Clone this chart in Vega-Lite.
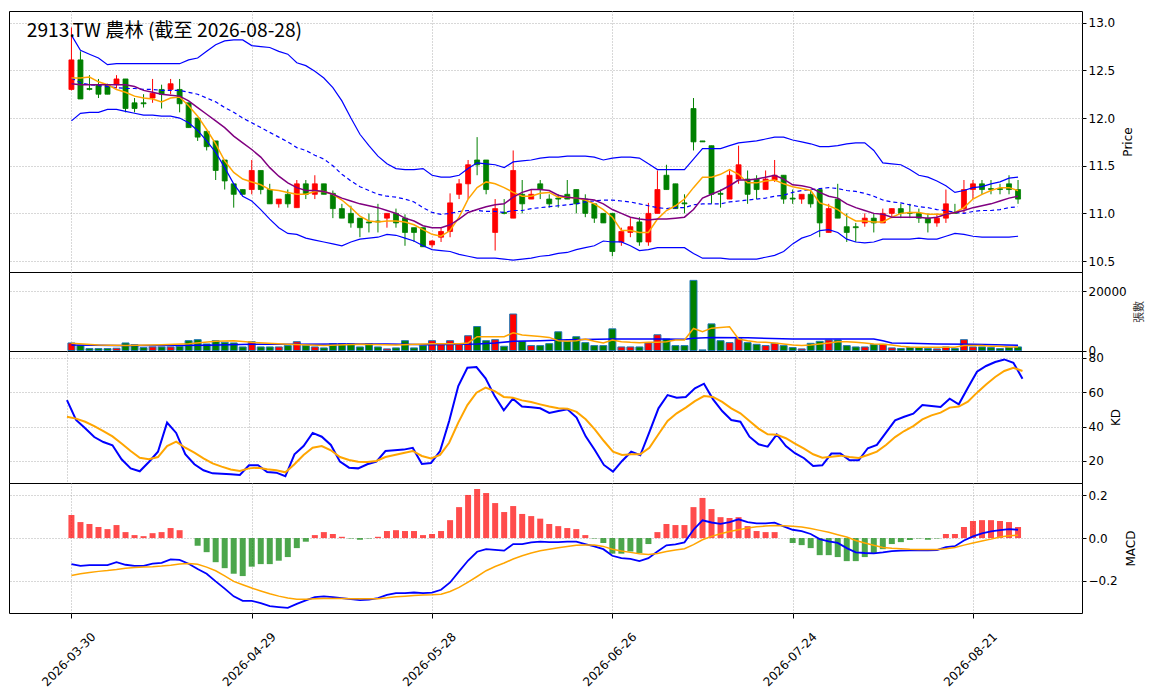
{
  "$schema": "https://vega.github.io/schema/vega-lite/v6.json",
  "background": "white",
  "padding": {"left": 8, "top": 10, "right": 5, "bottom": 5},
  "spacing": 0,
  "bounds": "flush",
  "datasets": {
    "k": [
      {"i":0,"o":12.30,"h":12.95,"l":12.29,"c":12.61,"v":2560,"bu":12.87,"bm":12.42,"bl":11.97,"m5":12.42,"m10":12.36,"k":55.4,"d":45.7,"dif":-0.122,"dea":-0.175,"hist":0.108},
      {"i":1,"o":12.61,"h":12.70,"l":12.20,"c":12.20,"v":1670,"bu":12.71,"bm":12.37,"bl":12.05,"m5":12.42,"m10":12.35,"k":43.8,"d":44.6,"dif":-0.130,"dea":-0.167,"hist":0.075},
      {"i":2,"o":12.31,"h":12.45,"l":12.29,"c":12.30,"v":670,"bu":12.67,"bm":12.35,"bl":12.06,"m5":12.43,"m10":12.35,"k":39.0,"d":42.8,"dif":-0.127,"dea":-0.161,"hist":0.066},
      {"i":3,"o":12.35,"h":12.41,"l":12.21,"c":12.25,"v":670,"bu":12.63,"bm":12.34,"bl":12.06,"m5":12.38,"m10":12.35,"k":33.9,"d":40.3,"dif":-0.127,"dea":-0.156,"hist":0.052},
      {"i":4,"o":12.35,"h":12.36,"l":12.25,"c":12.25,"v":670,"bu":12.56,"bm":12.33,"bl":12.09,"m5":12.35,"m10":12.35,"k":31.0,"d":37.4,"dif":-0.127,"dea":-0.152,"hist":0.042},
      {"i":5,"o":12.35,"h":12.45,"l":12.31,"c":12.41,"v":780,"bu":12.57,"bm":12.32,"bl":12.09,"m5":12.30,"m10":12.35,"k":29.1,"d":34.3,"dif":-0.113,"dea":-0.147,"hist":0.061},
      {"i":6,"o":12.41,"h":12.41,"l":12.06,"c":12.10,"v":2560,"bu":12.57,"bm":12.31,"bl":12.07,"m5":12.27,"m10":12.35,"k":21.0,"d":30.1,"dif":-0.125,"dea":-0.141,"hist":0.028},
      {"i":7,"o":12.16,"h":12.21,"l":12.06,"c":12.10,"v":2000,"bu":12.57,"bm":12.31,"bl":12.05,"m5":12.23,"m10":12.33,"k":15.7,"d":25.8,"dif":-0.130,"dea":-0.138,"hist":0.014},
      {"i":8,"o":12.16,"h":12.25,"l":12.11,"c":12.15,"v":1000,"bu":12.57,"bm":12.30,"bl":12.03,"m5":12.21,"m10":12.29,"k":14.0,"d":21.9,"dif":-0.130,"dea":-0.136,"hist":0.009},
      {"i":9,"o":12.21,"h":12.41,"l":12.16,"c":12.26,"v":1220,"bu":12.57,"bm":12.30,"bl":12.03,"m5":12.20,"m10":12.27,"k":19.4,"d":21.0,"dif":-0.120,"dea":-0.134,"hist":0.023},
      {"i":10,"o":12.30,"h":12.35,"l":12.10,"c":12.25,"v":1220,"bu":12.57,"bm":12.29,"bl":12.02,"m5":12.17,"m10":12.25,"k":25.4,"d":22.3,"dif":-0.116,"dea":-0.131,"hist":0.028},
      {"i":11,"o":12.30,"h":12.41,"l":12.25,"c":12.36,"v":1220,"bu":12.57,"bm":12.29,"bl":12.02,"m5":12.21,"m10":12.24,"k":42.3,"d":28.7,"dif":-0.100,"dea":-0.127,"hist":0.047},
      {"i":12,"o":12.30,"h":12.41,"l":12.06,"c":12.15,"v":1440,"bu":12.57,"bm":12.29,"bl":12.00,"m5":12.22,"m10":12.23,"k":36.3,"d":31.2,"dif":-0.102,"dea":-0.122,"hist":0.037},
      {"i":13,"o":12.16,"h":12.16,"l":11.90,"c":11.90,"v":3330,"bu":12.61,"bm":12.27,"bl":11.95,"m5":12.13,"m10":12.18,"k":23.9,"d":27.7,"dif":-0.120,"dea":-0.119,"hist":0.0},
      {"i":14,"o":12.00,"h":12.00,"l":11.76,"c":11.80,"v":3670,"bu":12.63,"bm":12.25,"bl":11.87,"m5":12.02,"m10":12.11,"k":18.1,"d":24.8,"dif":-0.145,"dea":-0.123,"hist":-0.036},
      {"i":15,"o":11.86,"h":11.86,"l":11.66,"c":11.70,"v":2220,"bu":12.70,"bm":12.21,"bl":11.76,"m5":11.88,"m10":12.04,"k":14.6,"d":21.5,"dif":-0.167,"dea":-0.136,"hist":-0.066},
      {"i":16,"o":11.76,"h":11.76,"l":11.35,"c":11.45,"v":3330,"bu":12.77,"bm":12.17,"bl":11.64,"m5":11.73,"m10":11.97,"k":12.8,"d":18.6,"dif":-0.203,"dea":-0.153,"hist":-0.113},
      {"i":17,"o":11.56,"h":11.56,"l":11.25,"c":11.34,"v":2780,"bu":12.81,"bm":12.11,"bl":11.48,"m5":11.55,"m10":11.90,"k":12.6,"d":16.7,"dif":-0.237,"dea":-0.177,"hist":-0.141},
      {"i":18,"o":11.31,"h":11.31,"l":11.06,"c":11.20,"v":2560,"bu":12.82,"bm":12.06,"bl":11.31,"m5":11.43,"m10":11.81,"k":12.3,"d":15.0,"dif":-0.273,"dea":-0.203,"hist":-0.167},
      {"i":19,"o":11.25,"h":11.25,"l":11.20,"c":11.20,"v":1220,"bu":12.82,"bm":12.00,"bl":11.18,"m5":11.36,"m10":11.74,"k":11.9,"d":14.2,"dif":-0.294,"dea":-0.219,"hist":-0.178},
      {"i":20,"o":11.25,"h":11.56,"l":11.20,"c":11.45,"v":3000,"bu":12.76,"bm":11.95,"bl":11.13,"m5":11.33,"m10":11.67,"k":17.5,"d":15.7,"dif":-0.294,"dea":-0.234,"hist":-0.134},
      {"i":21,"o":11.45,"h":11.45,"l":11.20,"c":11.25,"v":1220,"bu":12.75,"bm":11.90,"bl":11.04,"m5":11.30,"m10":11.59,"k":17.5,"d":16.1,"dif":-0.305,"dea":-0.248,"hist":-0.122},
      {"i":22,"o":11.25,"h":11.31,"l":11.10,"c":11.10,"v":1220,"bu":12.74,"bm":11.85,"bl":10.94,"m5":11.25,"m10":11.48,"k":13.6,"d":15.2,"dif":-0.319,"dea":-0.261,"hist":-0.122},
      {"i":23,"o":11.10,"h":11.15,"l":11.06,"c":11.15,"v":1220,"bu":12.70,"bm":11.80,"bl":10.85,"m5":11.24,"m10":11.39,"k":13.2,"d":14.6,"dif":-0.323,"dea":-0.272,"hist":-0.106},
      {"i":24,"o":11.20,"h":11.25,"l":11.06,"c":11.10,"v":1670,"bu":12.67,"bm":11.75,"bl":10.79,"m5":11.22,"m10":11.32,"k":11.1,"d":13.4,"dif":-0.327,"dea":-0.281,"hist":-0.089},
      {"i":25,"o":11.06,"h":11.35,"l":11.06,"c":11.31,"v":3000,"bu":12.58,"bm":11.69,"bl":10.78,"m5":11.20,"m10":11.27,"k":23.9,"d":18.1,"dif":-0.308,"dea":-0.286,"hist":-0.047},
      {"i":26,"o":11.31,"h":11.35,"l":11.15,"c":11.20,"v":1670,"bu":12.55,"bm":11.66,"bl":10.74,"m5":11.20,"m10":11.24,"k":28.7,"d":23.5,"dif":-0.292,"dea":-0.286,"hist":-0.017},
      {"i":27,"o":11.20,"h":11.40,"l":11.15,"c":11.31,"v":1220,"bu":12.49,"bm":11.61,"bl":10.72,"m5":11.23,"m10":11.24,"k":36.3,"d":27.7,"dif":-0.277,"dea":-0.284,"hist":0.014},
      {"i":28,"o":11.31,"h":11.31,"l":11.20,"c":11.20,"v":890,"bu":12.42,"bm":11.57,"bl":10.70,"m5":11.23,"m10":11.23,"k":34.1,"d":28.7,"dif":-0.273,"dea":-0.283,"hist":0.028},
      {"i":29,"o":11.21,"h":11.24,"l":10.95,"c":11.05,"v":2330,"bu":12.32,"bm":11.50,"bl":10.68,"m5":11.20,"m10":11.20,"k":29.3,"d":26.2,"dif":-0.277,"dea":-0.283,"hist":0.019},
      {"i":30,"o":11.05,"h":11.10,"l":10.95,"c":10.95,"v":2330,"bu":12.18,"bm":11.41,"bl":10.66,"m5":11.14,"m10":11.16,"k":19.6,"d":22.3,"dif":-0.281,"dea":-0.283,"hist":0.006},
      {"i":31,"o":11.00,"h":11.08,"l":10.85,"c":10.90,"v":2330,"bu":12.00,"bm":11.34,"bl":10.70,"m5":11.06,"m10":11.13,"k":16.1,"d":20.6,"dif":-0.286,"dea":-0.284,"hist":-0.002},
      {"i":32,"o":10.95,"h":10.95,"l":10.75,"c":10.85,"v":1220,"bu":11.83,"bm":11.28,"bl":10.73,"m5":10.97,"m10":11.10,"k":15.7,"d":19.6,"dif":-0.291,"dea":-0.284,"hist":-0.008},
      {"i":33,"o":10.91,"h":11.00,"l":10.80,"c":10.90,"v":2330,"bu":11.71,"bm":11.24,"bl":10.74,"m5":10.92,"m10":11.08,"k":18.1,"d":19.4,"dif":-0.288,"dea":-0.284,"hist":-0.002},
      {"i":34,"o":10.92,"h":11.10,"l":10.80,"c":10.91,"v":1220,"bu":11.60,"bm":11.20,"bl":10.75,"m5":10.91,"m10":11.06,"k":19.6,"d":20.0,"dif":-0.281,"dea":-0.284,"hist":0.006},
      {"i":35,"o":10.95,"h":11.00,"l":10.85,"c":11.00,"v":560,"bu":11.52,"bm":11.18,"bl":10.78,"m5":10.92,"m10":11.03,"k":25.8,"d":22.3,"dif":-0.266,"dea":-0.280,"hist":0.033},
      {"i":36,"o":11.00,"h":11.05,"l":10.85,"c":10.90,"v":890,"bu":11.47,"bm":11.17,"bl":10.77,"m5":10.92,"m10":11.00,"k":26.2,"d":23.5,"dif":-0.258,"dea":-0.275,"hist":0.037},
      {"i":37,"o":10.95,"h":10.99,"l":10.66,"c":10.80,"v":3330,"bu":11.46,"bm":11.15,"bl":10.74,"m5":10.91,"m10":10.95,"k":26.6,"d":24.6,"dif":-0.258,"dea":-0.272,"hist":0.033},
      {"i":38,"o":10.85,"h":10.85,"l":10.70,"c":10.80,"v":890,"bu":11.46,"bm":11.12,"bl":10.71,"m5":10.88,"m10":10.92,"k":27.6,"d":25.8,"dif":-0.255,"dea":-0.269,"hist":0.033},
      {"i":39,"o":10.85,"h":10.85,"l":10.65,"c":10.65,"v":1670,"bu":11.47,"bm":11.06,"bl":10.66,"m5":10.83,"m10":10.87,"k":18.3,"d":22.9,"dif":-0.258,"dea":-0.267,"hist":0.014},
      {"i":40,"o":10.67,"h":10.72,"l":10.64,"c":10.71,"v":3330,"bu":11.40,"bm":11.01,"bl":10.62,"m5":10.78,"m10":10.85,"k":18.8,"d":21.5,"dif":-0.256,"dea":-0.266,"hist":0.019},
      {"i":41,"o":10.75,"h":10.85,"l":10.70,"c":10.81,"v":2330,"bu":11.38,"bm":10.99,"bl":10.61,"m5":10.76,"m10":10.85,"k":25.8,"d":23.5,"dif":-0.242,"dea":-0.263,"hist":0.033},
      {"i":42,"o":10.81,"h":11.21,"l":10.75,"c":11.11,"v":3330,"bu":11.38,"bm":11.00,"bl":10.60,"m5":10.82,"m10":10.88,"k":43.2,"d":30.6,"dif":-0.208,"dea":-0.250,"hist":0.084},
      {"i":43,"o":11.20,"h":11.36,"l":11.15,"c":11.31,"v":2330,"bu":11.40,"bm":11.02,"bl":10.57,"m5":10.96,"m10":10.94,"k":63.5,"d":42.3,"dif":-0.156,"dea":-0.231,"hist":0.145},
      {"i":44,"o":11.31,"h":11.56,"l":11.15,"c":11.51,"v":5000,"bu":11.47,"bm":11.03,"bl":10.55,"m5":11.15,"m10":11.01,"k":74.2,"d":52.5,"dif":-0.105,"dea":-0.206,"hist":0.202},
      {"i":45,"o":11.56,"h":11.80,"l":11.40,"c":11.51,"v":8100,"bu":11.53,"bm":11.03,"bl":10.53,"m5":11.27,"m10":11.04,"k":74.6,"d":59.7,"dif":-0.064,"dea":-0.180,"hist":0.230},
      {"i":46,"o":11.56,"h":11.56,"l":11.20,"c":11.25,"v":3330,"bu":11.52,"bm":11.02,"bl":10.53,"m5":11.33,"m10":11.07,"k":68.0,"d":62.6,"dif":-0.052,"dea":-0.153,"hist":0.211},
      {"i":47,"o":10.80,"h":11.15,"l":10.61,"c":11.05,"v":3670,"bu":11.51,"bm":11.02,"bl":10.53,"m5":11.31,"m10":11.09,"k":57.7,"d":60.6,"dif":-0.055,"dea":-0.133,"hist":0.164},
      {"i":48,"o":11.01,"h":11.15,"l":10.99,"c":11.00,"v":1440,"bu":11.48,"bm":11.01,"bl":10.52,"m5":11.27,"m10":11.10,"k":49.4,"d":57.2,"dif":-0.059,"dea":-0.117,"hist":0.122},
      {"i":49,"o":10.95,"h":11.66,"l":10.95,"c":11.45,"v":12330,"bu":11.54,"bm":11.03,"bl":10.51,"m5":11.22,"m10":11.17,"k":56.2,"d":56.8,"dif":-0.028,"dea":-0.098,"hist":0.150},
      {"i":50,"o":11.20,"h":11.35,"l":11.00,"c":11.10,"v":3100,"bu":11.55,"bm":11.03,"bl":10.52,"m5":11.18,"m10":11.22,"k":51.7,"d":55.2,"dif":-0.028,"dea":-0.083,"hist":0.113},
      {"i":51,"o":11.15,"h":11.25,"l":11.15,"c":11.20,"v":1670,"bu":11.56,"bm":11.05,"bl":10.53,"m5":11.18,"m10":11.25,"k":51.2,"d":54.3,"dif":-0.020,"dea":-0.070,"hist":0.103},
      {"i":52,"o":11.31,"h":11.35,"l":11.15,"c":11.25,"v":1670,"bu":11.58,"bm":11.06,"bl":10.55,"m5":11.21,"m10":11.25,"k":50.6,"d":52.9,"dif":-0.017,"dea":-0.059,"hist":0.091},
      {"i":53,"o":11.15,"h":11.20,"l":11.06,"c":11.10,"v":2330,"bu":11.59,"bm":11.07,"bl":10.56,"m5":11.22,"m10":11.24,"k":47.9,"d":51.6,"dif":-0.019,"dea":-0.052,"hist":0.066},
      {"i":54,"o":11.16,"h":11.20,"l":11.06,"c":11.15,"v":6330,"bu":11.59,"bm":11.08,"bl":10.58,"m5":11.17,"m10":11.19,"k":49.0,"d":50.6,"dif":-0.019,"dea":-0.045,"hist":0.056},
      {"i":55,"o":11.20,"h":11.35,"l":11.15,"c":11.15,"v":3110,"bu":11.60,"bm":11.09,"bl":10.59,"m5":11.17,"m10":11.17,"k":50.0,"d":50.4,"dif":-0.017,"dea":-0.039,"hist":0.047},
      {"i":56,"o":11.25,"h":11.25,"l":11.00,"c":11.10,"v":4670,"bu":11.60,"bm":11.10,"bl":10.62,"m5":11.16,"m10":11.16,"k":45.2,"d":48.5,"dif":-0.017,"dea":-0.034,"hist":0.042},
      {"i":57,"o":11.15,"h":11.20,"l":10.96,"c":11.00,"v":2670,"bu":11.60,"bm":11.12,"bl":10.64,"m5":11.14,"m10":11.15,"k":34.3,"d":44.2,"dif":-0.028,"dea":-0.033,"hist":0.014},
      {"i":58,"o":11.10,"h":11.10,"l":10.90,"c":10.95,"v":1670,"bu":11.59,"bm":11.13,"bl":10.66,"m5":11.10,"m10":11.14,"k":26.4,"d":38.4,"dif":-0.039,"dea":-0.033,"hist":-0.002},
      {"i":59,"o":11.00,"h":11.00,"l":10.90,"c":10.90,"v":1670,"bu":11.56,"bm":11.14,"bl":10.71,"m5":11.04,"m10":11.10,"k":17.7,"d":31.6,"dif":-0.052,"dea":-0.039,"hist":-0.023},
      {"i":60,"o":11.00,"h":11.00,"l":10.55,"c":10.60,"v":7330,"bu":11.58,"bm":11.14,"bl":10.70,"m5":10.96,"m10":11.04,"k":13.8,"d":25.4,"dif":-0.083,"dea":-0.052,"hist":-0.073},
      {"i":61,"o":10.70,"h":10.85,"l":10.66,"c":10.81,"v":1220,"bu":11.59,"bm":11.13,"bl":10.70,"m5":10.82,"m10":11.00,"k":20.0,"d":23.5,"dif":-0.094,"dea":-0.061,"hist":-0.073},
      {"i":62,"o":10.80,"h":10.95,"l":10.75,"c":10.86,"v":1220,"bu":11.59,"bm":11.12,"bl":10.66,"m5":10.82,"m10":10.96,"k":25.4,"d":23.9,"dif":-0.097,"dea":-0.067,"hist":-0.063},
      {"i":63,"o":10.91,"h":10.96,"l":10.66,"c":10.70,"v":1220,"bu":11.58,"bm":11.10,"bl":10.61,"m5":10.80,"m10":10.94,"k":23.3,"d":23.9,"dif":-0.108,"dea":-0.073,"hist":-0.070},
      {"i":64,"o":10.70,"h":11.11,"l":10.66,"c":11.00,"v":2560,"bu":11.52,"bm":11.08,"bl":10.62,"m5":10.80,"m10":10.93,"k":36.8,"d":27.7,"dif":-0.094,"dea":-0.077,"hist":-0.028},
      {"i":65,"o":11.00,"h":11.45,"l":11.00,"c":11.25,"v":5330,"bu":11.46,"bm":11.06,"bl":10.64,"m5":10.94,"m10":10.94,"k":50.6,"d":35.5,"dif":-0.063,"dea":-0.072,"hist":0.028},
      {"i":66,"o":11.40,"h":11.51,"l":11.25,"c":11.25,"v":3890,"bu":11.46,"bm":11.05,"bl":10.64,"m5":11.03,"m10":10.94,"k":58.3,"d":43.2,"dif":-0.034,"dea":-0.063,"hist":0.066},
      {"i":67,"o":11.31,"h":11.31,"l":11.05,"c":11.05,"v":1670,"bu":11.46,"bm":11.06,"bl":10.64,"m5":11.08,"m10":10.95,"k":56.8,"d":47.7,"dif":-0.030,"dea":-0.056,"hist":0.061},
      {"i":68,"o":11.11,"h":11.20,"l":11.00,"c":11.10,"v":1670,"bu":11.46,"bm":11.06,"bl":10.64,"m5":11.15,"m10":10.96,"k":57.2,"d":51.0,"dif":-0.020,"dea":-0.050,"hist":0.061},
      {"i":69,"o":12.10,"h":12.21,"l":11.66,"c":11.75,"v":23670,"bu":11.57,"bm":11.09,"bl":10.58,"m5":11.27,"m10":11.04,"k":62.2,"d":54.8,"dif":0.039,"dea":-0.031,"hist":0.145},
      {"i":70,"o":11.76,"h":11.76,"l":11.75,"c":11.75,"v":220,"bu":11.68,"bm":11.10,"bl":10.53,"m5":11.38,"m10":11.16,"k":64.9,"d":57.7,"dif":0.083,"dea":-0.008,"hist":0.188},
      {"i":71,"o":11.71,"h":11.71,"l":11.10,"c":11.20,"v":9000,"bu":11.68,"bm":11.10,"bl":10.53,"m5":11.38,"m10":11.20,"k":55.8,"d":57.2,"dif":0.073,"dea":0.008,"hist":0.136},
      {"i":72,"o":11.21,"h":11.25,"l":11.06,"c":11.20,"v":3330,"bu":11.68,"bm":11.10,"bl":10.53,"m5":11.41,"m10":11.24,"k":49.0,"d":54.3,"dif":0.067,"dea":0.020,"hist":0.098},
      {"i":73,"o":11.15,"h":11.45,"l":11.15,"c":11.40,"v":2670,"bu":11.71,"bm":11.12,"bl":10.52,"m5":11.46,"m10":11.29,"k":43.8,"d":50.6,"dif":0.075,"dea":0.031,"hist":0.094},
      {"i":74,"o":11.36,"h":11.71,"l":11.31,"c":11.51,"v":4000,"bu":11.74,"bm":11.13,"bl":10.52,"m5":11.41,"m10":11.35,"k":42.8,"d":47.7,"dif":0.088,"dea":0.039,"hist":0.098},
      {"i":75,"o":11.36,"h":11.45,"l":11.10,"c":11.20,"v":2670,"bu":11.75,"bm":11.14,"bl":10.52,"m5":11.32,"m10":11.35,"k":34.1,"d":43.2,"dif":0.075,"dea":0.047,"hist":0.056},
      {"i":76,"o":11.36,"h":11.40,"l":11.15,"c":11.25,"v":2110,"bu":11.76,"bm":11.15,"bl":10.52,"m5":11.32,"m10":11.36,"k":29.7,"d":38.8,"dif":0.069,"dea":0.053,"hist":0.033},
      {"i":77,"o":11.25,"h":11.45,"l":11.25,"c":11.36,"v":1670,"bu":11.78,"bm":11.16,"bl":10.54,"m5":11.34,"m10":11.38,"k":28.3,"d":35.5,"dif":0.069,"dea":0.056,"hist":0.028},
      {"i":78,"o":11.35,"h":11.56,"l":11.33,"c":11.40,"v":2440,"bu":11.80,"bm":11.18,"bl":10.56,"m5":11.35,"m10":11.40,"k":35.5,"d":35.3,"dif":0.072,"dea":0.059,"hist":0.028},
      {"i":79,"o":11.40,"h":11.40,"l":11.10,"c":11.15,"v":1670,"bu":11.80,"bm":11.19,"bl":10.60,"m5":11.31,"m10":11.36,"k":28.7,"d":33.2,"dif":0.055,"dea":0.058,"hist":0.0},
      {"i":80,"o":11.16,"h":11.25,"l":11.10,"c":11.15,"v":1000,"bu":11.77,"bm":11.22,"bl":10.68,"m5":11.28,"m10":11.30,"k":24.5,"d":30.1,"dif":0.039,"dea":0.055,"hist":-0.023},
      {"i":81,"o":11.15,"h":11.20,"l":11.10,"c":11.20,"v":560,"bu":11.75,"bm":11.24,"bl":10.74,"m5":11.26,"m10":11.29,"k":21.6,"d":27.2,"dif":0.033,"dea":0.052,"hist":-0.033},
      {"i":82,"o":11.20,"h":11.25,"l":11.06,"c":11.10,"v":2440,"bu":11.73,"bm":11.25,"bl":10.77,"m5":11.24,"m10":11.27,"k":17.1,"d":23.9,"dif":0.019,"dea":0.045,"hist":-0.047},
      {"i":83,"o":11.25,"h":11.25,"l":10.75,"c":10.90,"v":3110,"bu":11.70,"bm":11.26,"bl":10.82,"m5":11.11,"m10":11.22,"k":17.5,"d":21.9,"dif":-0.005,"dea":0.036,"hist":-0.080},
      {"i":84,"o":10.80,"h":11.10,"l":10.80,"c":11.05,"v":3560,"bu":11.70,"bm":11.27,"bl":10.83,"m5":11.08,"m10":11.18,"k":24.3,"d":22.5,"dif":-0.016,"dea":0.027,"hist":-0.080},
      {"i":85,"o":11.15,"h":11.31,"l":10.95,"c":10.95,"v":3560,"bu":11.71,"bm":11.26,"bl":10.80,"m5":11.04,"m10":11.16,"k":24.3,"d":23.1,"dif":-0.023,"dea":0.016,"hist":-0.089},
      {"i":86,"o":10.86,"h":11.00,"l":10.70,"c":10.80,"v":1670,"bu":11.73,"bm":11.24,"bl":10.73,"m5":10.97,"m10":11.10,"k":20.4,"d":22.3,"dif":-0.047,"dea":0.005,"hist":-0.108},
      {"i":87,"o":10.86,"h":10.90,"l":10.70,"c":10.85,"v":1220,"bu":11.74,"bm":11.23,"bl":10.70,"m5":10.92,"m10":11.06,"k":20.4,"d":21.7,"dif":-0.067,"dea":-0.011,"hist":-0.108},
      {"i":88,"o":10.90,"h":11.00,"l":10.86,"c":10.95,"v":1220,"bu":11.74,"bm":11.21,"bl":10.69,"m5":10.92,"m10":11.03,"k":27.4,"d":23.5,"dif":-0.070,"dea":-0.023,"hist":-0.089},
      {"i":89,"o":10.95,"h":11.00,"l":10.80,"c":10.90,"v":2000,"bu":11.66,"bm":11.18,"bl":10.70,"m5":10.91,"m10":11.00,"k":29.3,"d":25.4,"dif":-0.072,"dea":-0.034,"hist":-0.070},
      {"i":90,"o":10.90,"h":11.05,"l":10.90,"c":11.00,"v":2110,"bu":11.53,"bm":11.14,"bl":10.73,"m5":10.91,"m10":10.99,"k":36.5,"d":29.3,"dif":-0.067,"dea":-0.044,"hist":-0.052},
      {"i":91,"o":11.00,"h":11.05,"l":10.95,"c":11.05,"v":890,"bu":11.52,"bm":11.12,"bl":10.73,"m5":10.96,"m10":10.96,"k":43.6,"d":33.9,"dif":-0.061,"dea":-0.048,"hist":-0.028},
      {"i":92,"o":11.05,"h":11.10,"l":10.95,"c":11.00,"v":670,"bu":11.51,"bm":11.11,"bl":10.73,"m5":11.00,"m10":10.96,"k":45.7,"d":37.4,"dif":-0.059,"dea":-0.050,"hist":-0.019},
      {"i":93,"o":11.01,"h":11.10,"l":10.95,"c":11.00,"v":1000,"bu":11.46,"bm":11.09,"bl":10.73,"m5":11.01,"m10":10.96,"k":47.5,"d":40.3,"dif":-0.058,"dea":-0.052,"hist":-0.009},
      {"i":94,"o":11.00,"h":11.05,"l":10.90,"c":10.95,"v":1000,"bu":11.40,"bm":11.07,"bl":10.74,"m5":11.01,"m10":10.96,"k":52.5,"d":44.2,"dif":-0.056,"dea":-0.053,"hist":-0.002},
      {"i":95,"o":10.95,"h":11.00,"l":10.80,"c":10.90,"v":670,"bu":11.38,"bm":11.06,"bl":10.73,"m5":10.99,"m10":10.95,"k":51.9,"d":46.5,"dif":-0.058,"dea":-0.053,"hist":-0.008},
      {"i":96,"o":10.90,"h":11.00,"l":10.86,"c":10.95,"v":560,"bu":11.34,"bm":11.04,"bl":10.73,"m5":10.99,"m10":10.96,"k":51.4,"d":48.1,"dif":-0.056,"dea":-0.053,"hist":-0.002},
      {"i":97,"o":10.95,"h":11.25,"l":10.90,"c":11.10,"v":1220,"bu":11.29,"bm":11.03,"bl":10.76,"m5":10.99,"m10":10.99,"k":56.2,"d":51.0,"dif":-0.042,"dea":-0.050,"hist":0.019},
      {"i":98,"o":11.01,"h":11.10,"l":11.00,"c":11.00,"v":670,"bu":11.22,"bm":11.01,"bl":10.79,"m5":11.01,"m10":11.01,"k":52.9,"d":51.6,"dif":-0.038,"dea":-0.044,"hist":0.019},
      {"i":99,"o":11.05,"h":11.35,"l":11.00,"c":11.25,"v":3670,"bu":11.24,"bm":11.00,"bl":10.78,"m5":11.06,"m10":11.03,"k":62.6,"d":54.5,"dif":-0.011,"dea":-0.033,"hist":0.052},
      {"i":100,"o":11.25,"h":11.35,"l":11.15,"c":11.31,"v":1220,"bu":11.27,"bm":11.02,"bl":10.76,"m5":11.15,"m10":11.06,"k":71.9,"d":59.7,"dif":0.008,"dea":-0.023,"hist":0.080},
      {"i":101,"o":11.31,"h":11.35,"l":11.20,"c":11.25,"v":1220,"bu":11.28,"bm":11.03,"bl":10.75,"m5":11.20,"m10":11.08,"k":75.2,"d":64.5,"dif":0.022,"dea":-0.014,"hist":0.084},
      {"i":102,"o":11.26,"h":11.35,"l":11.20,"c":11.25,"v":1000,"bu":11.31,"bm":11.03,"bl":10.75,"m5":11.24,"m10":11.10,"k":77.5,"d":68.8,"dif":0.031,"dea":-0.005,"hist":0.084},
      {"i":103,"o":11.26,"h":11.31,"l":11.20,"c":11.25,"v":670,"bu":11.33,"bm":11.04,"bl":10.75,"m5":11.27,"m10":11.13,"k":79.0,"d":72.3,"dif":0.037,"dea":0.005,"hist":0.080},
      {"i":104,"o":11.31,"h":11.40,"l":11.20,"c":11.25,"v":1000,"bu":11.37,"bm":11.06,"bl":10.75,"m5":11.27,"m10":11.16,"k":77.1,"d":74.2,"dif":0.042,"dea":0.011,"hist":0.075},
      {"i":105,"o":11.25,"h":11.35,"l":11.10,"c":11.15,"v":1220,"bu":11.38,"bm":11.07,"bl":10.76,"m5":11.24,"m10":11.18,"k":67.8,"d":72.3,"dif":0.039,"dea":0.013,"hist":0.052}
    ],
    "vo": [
      {"i":0,"v":2440},{"i":3,"v":1890},{"i":6,"v":1670},{"i":10,"v":2000},{"i":13,"v":2330},{"i":16,"v":3110},{"i":18,"v":3330},{"i":20,"v":2780},{"i":24,"v":2110},{"i":28,"v":1670},{"i":32,"v":2110},{"i":36,"v":1890},{"i":40,"v":2330},{"i":43,"v":2330},{"i":44,"v":2560},{"i":45,"v":4670},{"i":48,"v":4670},{"i":49,"v":6000},{"i":50,"v":5220},{"i":52,"v":4780},{"i":53,"v":4440},{"i":54,"v":3330},{"i":55,"v":3110},{"i":56,"v":3330},{"i":57,"v":3890},{"i":58,"v":3110},{"i":59,"v":2560},{"i":60,"v":3560},{"i":61,"v":3000},{"i":62,"v":2780},{"i":63,"v":2670},{"i":64,"v":2780},{"i":65,"v":2780},{"i":66,"v":3000},{"i":67,"v":3560},{"i":68,"v":3560},{"i":69,"v":7440},{"i":70,"v":6330},{"i":71,"v":7560},{"i":72,"v":7780},{"i":73,"v":8000},{"i":74,"v":3890},{"i":75,"v":3330},{"i":76,"v":2890},{"i":77,"v":2780},{"i":78,"v":2560},{"i":79,"v":2220},{"i":80,"v":1890},{"i":81,"v":1670},{"i":82,"v":1890},{"i":83,"v":2220},{"i":84,"v":2560},{"i":85,"v":3000},{"i":86,"v":3000},{"i":87,"v":2780},{"i":88,"v":2560},{"i":89,"v":2220},{"i":90,"v":2110},{"i":91,"v":1890},{"i":92,"v":1440},{"i":93,"v":1220},{"i":94,"v":1110},{"i":95,"v":1110},{"i":96,"v":1110},{"i":97,"v":1110},{"i":98,"v":1110},{"i":99,"v":1670},{"i":100,"v":1670},{"i":101,"v":1670},{"i":102,"v":1440},{"i":103,"v":1440},{"i":104,"v":1220},{"i":105,"v":1220}
    ],
    "vb": [
      {"i":0,"v":1890},{"i":5,"v":1670},{"i":10,"v":1670},{"i":15,"v":1780},{"i":20,"v":2110},{"i":25,"v":2110},{"i":30,"v":2220},{"i":35,"v":2220},{"i":40,"v":2000},{"i":43,"v":2110},{"i":45,"v":2220},{"i":47,"v":2560},{"i":49,"v":3110},{"i":52,"v":3330},{"i":55,"v":3670},{"i":60,"v":3890},{"i":65,"v":3890},{"i":68,"v":3780},{"i":69,"v":4110},{"i":71,"v":4440},{"i":75,"v":4330},{"i":80,"v":3890},{"i":85,"v":3890},{"i":89,"v":3890},{"i":90,"v":3330},{"i":91,"v":2560},{"i":93,"v":2440},{"i":96,"v":2220},{"i":100,"v":2110},{"i":105,"v":1780}
    ],
    "title": [
      {"t": "2913.TW 農林 (截至 2026-08-28)", "x": -4.95, "y": 12.913}
    ]
  },
  "vconcat": [
    {
      "width": 1073,
      "height": 261,
      "encoding": {
        "x": {"field": "i", "type": "quantitative", "scale": {"domain": [-6.37, 111.54], "nice": false, "zero": false},
              "axis": {"values": [0, 20, 40, 60, 80, 100], "labels": false, "ticks": false, "domain": false, "title": null, "grid": true}}
      },
      "layer": [
        {
          "data": {"name": "k"},
          "mark": {"type": "rule", "strokeWidth": 1},
          "encoding": {
            "y": {"field": "l", "type": "quantitative", "scale": {"domain": [10.385, 13.123], "nice": false, "zero": false},
                  "axis": {"orient": "right", "values": [10.5, 11.0, 11.5, 12.0, 12.5, 13.0], "format": ".1f", "title": "Price", "titleAngle": -90, "titleBaseline": "top", "titlePadding": 8, "grid": true, "domain": false, "tickSize": 4}},
            "y2": {"field": "h"},
            "color": {"condition": {"test": "datum.c >= datum.o", "value": "#ff0000"}, "value": "#008000"}
          }
        },
        {
          "data": {"name": "k"},
          "mark": {"type": "bar", "size": 5, "strokeWidth": 0.8},
          "encoding": {
            "y": {"field": "o", "type": "quantitative"},
            "y2": {"field": "c"},
            "color": {"condition": {"test": "datum.c >= datum.o", "value": "#ff0000"}, "value": "#008000"},
            "stroke": {"condition": {"test": "datum.c >= datum.o", "value": "#ff0000"}, "value": "#008000"}
          }
        },
        {"data": {"name": "k"}, "mark": {"type": "line", "color": "#0000ff", "strokeWidth": 1.2}, "encoding": {"y": {"field": "bu", "type": "quantitative"}}},
        {"data": {"name": "k"}, "mark": {"type": "line", "color": "#0000ff", "strokeWidth": 1.2}, "encoding": {"y": {"field": "bl", "type": "quantitative"}}},
        {"data": {"name": "k"}, "mark": {"type": "line", "color": "#0000ff", "strokeWidth": 1.2, "strokeDash": [4, 3]}, "encoding": {"y": {"field": "bm", "type": "quantitative"}}},
        {"data": {"name": "k"}, "mark": {"type": "line", "color": "#ffa500", "strokeWidth": 1.5}, "encoding": {"y": {"field": "m5", "type": "quantitative"}}},
        {"data": {"name": "k"}, "mark": {"type": "line", "color": "#800080", "strokeWidth": 1.5}, "encoding": {"y": {"field": "m10", "type": "quantitative"}}},
        {
          "data": {"name": "title"},
          "mark": {"type": "text", "align": "left", "baseline": "middle", "font": "Noto Sans CJK TC", "fontSize": 19.2, "color": "black"},
          "encoding": {
            "x": {"field": "x", "type": "quantitative"},
            "y": {"field": "y", "type": "quantitative"},
            "text": {"field": "t"}
          }
        }
      ]
    },
    {
      "width": 1073,
      "height": 79,
      "encoding": {
        "x": {"field": "i", "type": "quantitative", "scale": {"domain": [-6.37, 111.54], "nice": false, "zero": false},
              "axis": {"values": [0, 20, 40, 60, 80, 100], "labels": false, "ticks": false, "domain": false, "title": null, "grid": true}}
      },
      "layer": [
        {
          "data": {"name": "k"},
          "mark": {"type": "bar", "size": 7, "stroke": "#1f77b4", "strokeWidth": 1},
          "encoding": {
            "y": {"field": "v", "type": "quantitative", "scale": {"domain": [-150, 26500], "nice": false, "zero": false},
                  "axis": {"orient": "right", "values": [0, 20000], "format": "d", "title": "張數", "titleFont": "Noto Sans CJK TC", "titleFontSize": 11, "titleColor": "#333333", "titleAngle": -90, "titleBaseline": "top", "titlePadding": 7, "grid": true, "domain": false, "tickSize": 4}},
            "color": {"condition": {"test": "datum.c >= datum.o", "value": "#ff0000"}, "value": "#008000"}
          }
        },
        {"data": {"name": "vb"}, "mark": {"type": "line", "color": "#0000ff", "strokeWidth": 1.5}, "encoding": {"y": {"field": "v", "type": "quantitative"}}},
        {"data": {"name": "vo"}, "mark": {"type": "line", "color": "#ffa500", "strokeWidth": 1.5}, "encoding": {"y": {"field": "v", "type": "quantitative"}}}
      ]
    },
    {
      "width": 1073,
      "height": 132,
      "data": {"name": "k"},
      "encoding": {
        "x": {"field": "i", "type": "quantitative", "scale": {"domain": [-6.37, 111.54], "nice": false, "zero": false},
              "axis": {"values": [0, 20, 40, 60, 80, 100], "labels": false, "ticks": false, "domain": false, "title": null, "grid": true}}
      },
      "layer": [
        {
          "mark": {"type": "line", "color": "#0000ff", "strokeWidth": 2},
          "encoding": {
            "y": {"field": "k", "type": "quantitative", "scale": {"domain": [7.2, 83.9], "nice": false, "zero": false},
                  "axis": {"orient": "right", "values": [20, 40, 60, 80], "title": "KD", "titleAngle": -90, "titleBaseline": "top", "titlePadding": 7, "grid": true, "domain": false, "tickSize": 4}}
          }
        },
        {"mark": {"type": "line", "color": "#ffa500", "strokeWidth": 2}, "encoding": {"y": {"field": "d", "type": "quantitative"}}}
      ]
    },
    {
      "width": 1073,
      "height": 130,
      "data": {"name": "k"},
      "encoding": {
        "x": {"field": "i", "type": "quantitative", "scale": {"domain": [-6.37, 111.54], "nice": false, "zero": false},
              "axis": {"values": [0, 20, 40, 60, 80, 100], "labelExpr": "datum.value == 0 ? '2026-03-30' : datum.value == 20 ? '2026-04-29' : datum.value == 40 ? '2026-05-28' : datum.value == 60 ? '2026-06-26' : datum.value == 80 ? '2026-07-24' : '2026-08-21'",
                       "labelAngle": -45, "labelAlign": "center", "labelBaseline": "middle", "labelPadding": 41, "labelOffset": -3, "labelFlush": false, "labelOverlap": false, "tickSize": 5, "domain": false, "title": null, "grid": true}}
      },
      "layer": [
        {
          "mark": {"type": "bar", "size": 6, "opacity": 0.7},
          "encoding": {
            "y": {"field": "hist", "type": "quantitative", "scale": {"domain": [-0.351, 0.258], "nice": false, "zero": false},
                  "axis": {"orient": "right", "values": [-0.2, 0, 0.2], "format": ".1f", "title": "MACD", "titleAngle": -90, "titleBaseline": "top", "titlePadding": 8, "grid": true, "domain": false, "tickSize": 4}},
            "color": {"condition": {"test": "datum.hist >= 0", "value": "#ff0000"}, "value": "#008000"}
          }
        },
        {"mark": {"type": "rule", "color": "gray", "strokeWidth": 1, "strokeDash": [4, 2]}, "encoding": {"y": {"datum": 0}}},
        {"mark": {"type": "line", "color": "#0000ff", "strokeWidth": 1.8}, "encoding": {"y": {"field": "dif", "type": "quantitative"}}},
        {"mark": {"type": "line", "color": "#ffa500", "strokeWidth": 1.5}, "encoding": {"y": {"field": "dea", "type": "quantitative"}}}
      ]
    }
  ],
  "config": {
    "view": {"stroke": "black", "strokeWidth": 1},
    "axis": {"labelFont": "DejaVu Sans", "labelFontSize": 12, "labelColor": "black", "titleFont": "DejaVu Sans", "titleFontSize": 12, "titleFontWeight": "normal", "titleColor": "black", "tickColor": "black", "gridColor": "#b0b0b0", "gridDash": [1, 2], "gridWidth": 1}
  }
}
